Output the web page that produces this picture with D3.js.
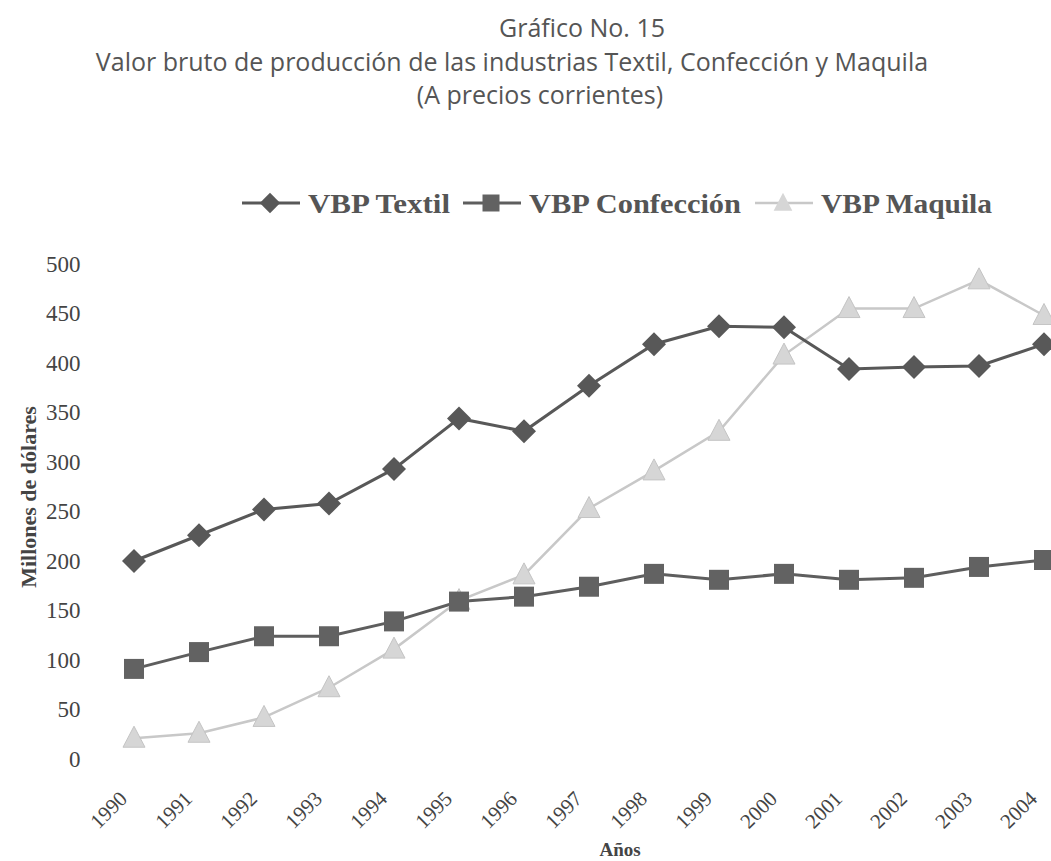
<!DOCTYPE html>
<html>
<head>
<meta charset="utf-8">
<script src="https://cdn.jsdelivr.net/npm/d3@7"></script>
<style>
  html, body { margin: 0; padding: 0; background: #fff; overflow: hidden; }
  svg { display: block; }
</style>
</head>
<body>
<svg id="chart" width="1051" height="861"></svg>
<script>
"use strict";

// data (millones de dólares)
const years = ["1990", "1991", "1992", "1993", "1994", "1995", "1996", "1997",
               "1998", "1999", "2000", "2001", "2002", "2003", "2004"];
const textil = [200, 226, 252, 258, 293, 344, 331, 377, 419, 437, 436, 394, 396, 397, 419];
const confeccion = [91, 108, 124, 124, 139, 159, 164, 174, 187, 181, 187, 181, 183, 194, 201];
const maquila = [21, 26, 42, 72, 111, 160, 186, 253, 291, 331, 408, 455, 455, 484, 448];
const yTicks = [0, 50, 100, 150, 200, 250, 300, 350, 400, 450, 500];

const titleLines = ["Gráfico No. 15",
    "Valor bruto de producción de las industrias Textil, Confección y Maquila",
    "(A precios corrientes)"];
const titleX = [582, 512, 540];

const series = [
    { name: "VBP Textil", values: textil, stroke: "#585858", fill: "#585858", shape: "diamond", width: 3 },
    { name: "VBP Confección", values: confeccion, stroke: "#5e5e5e", fill: "#626262", shape: "square", width: 3 },
    { name: "VBP Maquila", values: maquila, stroke: "#c8c8c8", fill: "#d6d6d6", shape: "triangle", width: 2.5 }
];

const svg = d3.select("#chart");
const serif = "'Liberation Serif', 'Times New Roman', serif";
const sans = "'Open Sans', 'DejaVu Sans', sans-serif";

// plot box (the scan cuts the right side of the chart off)
const plot = { left: 101.5, right: 1076.5, top: 264, bottom: 759 };

const x = d3.scalePoint()
    .domain(years)
    .range([plot.left, plot.right])
    .padding(0.5);

const y = d3.scaleLinear()
    .domain([0, 500])
    .range([plot.bottom, plot.top]);

// title
svg.append("g")
    .selectAll("text")
    .data(titleLines)
    .join("text")
    .attr("x", (d, i) => titleX[i])
    .attr("y", (d, i) => 37 + i * 33.5)
    .attr("text-anchor", "middle")
    .attr("font-family", sans)
    .attr("font-size", 25)
    .attr("fill", "#555")
    .text(d => d);

// symbol paths
function markerPath(shape) {
    if (shape === "diamond") return "M0,-12L12,0L0,12L-12,0Z";
    if (shape === "square") return "M-10,-10H10V10H-10Z";
    return "M0,-12L11,9H-11Z";
}

// y axis, labels only
const yAxis = svg.append("g")
    .attr("class", "yAxis")
    .attr("transform", `translate(${plot.left}, 0)`)
    .call(d3.axisLeft(y).tickValues(yTicks).tickSize(0).tickPadding(21));
yAxis.select(".domain").remove();
yAxis.selectAll("text")
    .attr("font-family", serif)
    .attr("font-size", 23)
    .attr("fill", "#444");

// x axis, rotated labels only
const xAxis = svg.append("g")
    .attr("class", "xAxis")
    .attr("transform", `translate(0, ${plot.bottom})`)
    .call(d3.axisBottom(x).tickSize(0).tickPadding(0));
xAxis.select(".domain").remove();
xAxis.selectAll("text")
    .attr("font-family", serif)
    .attr("font-size", 21)
    .attr("fill", "#444")
    .attr("text-anchor", "end")
    .attr("dy", 0)
    .attr("transform", "translate(-6, 41) rotate(-45)");

// axis titles
svg.append("text")
    .attr("transform", "translate(36, 497) rotate(-90)")
    .attr("text-anchor", "middle")
    .attr("font-family", serif)
    .attr("font-weight", "bold")
    .attr("font-size", 22)
    .attr("fill", "#444")
    .text("Millones de dólares");

svg.append("text")
    .attr("x", 620)
    .attr("y", 856)
    .attr("text-anchor", "middle")
    .attr("font-family", serif)
    .attr("font-weight", "bold")
    .attr("font-size", 19)
    .attr("fill", "#444")
    .text("Años");

// lines and markers, light series drawn first
const line = d3.line()
    .x((d, i) => x(years[i]))
    .y(d => y(d));

const drawOrder = [series[2], series[0], series[1]];
drawOrder.forEach(s => {
    const g = svg.append("g").attr("class", "series");
    g.append("path")
        .datum(s.values)
        .attr("fill", "none")
        .attr("stroke", s.stroke)
        .attr("stroke-width", s.width)
        .attr("d", line);
    g.selectAll("path.mark")
        .data(s.values)
        .join("path")
        .attr("class", "mark")
        .attr("d", markerPath(s.shape))
        .attr("transform", (d, i) => `translate(${x(years[i])}, ${y(d)})`)
        .attr("fill", s.fill)
        .attr("stroke", s.shape === "triangle" ? "#c4c4c4" : "none")
        .attr("stroke-width", 1);
});

// legend: line+marker, then bold label
const legendX = [242, 463, 755];
const legendW = [142, 212, 171];
const legend = svg.append("g").attr("class", "legend");
series.forEach((s, i) => {
    const g = legend.append("g").attr("transform", `translate(${legendX[i]}, 203)`);
    g.append("line")
        .attr("x1", 0).attr("x2", 58)
        .attr("stroke", s.stroke)
        .attr("stroke-width", s.width);
    g.append("path")
        .attr("d", markerPath(s.shape))
        .attr("transform", "translate(28, 0) scale(0.85)")
        .attr("fill", s.fill);
    g.append("text")
        .attr("x", 66)
        .attr("y", 10)
        .attr("font-family", serif)
        .attr("font-weight", "bold")
        .attr("font-size", 28)
        .attr("fill", "#555")
        .attr("textLength", legendW[i])
        .attr("lengthAdjust", "spacingAndGlyphs")
        .text(s.name);
});
</script>
</body>
</html>
